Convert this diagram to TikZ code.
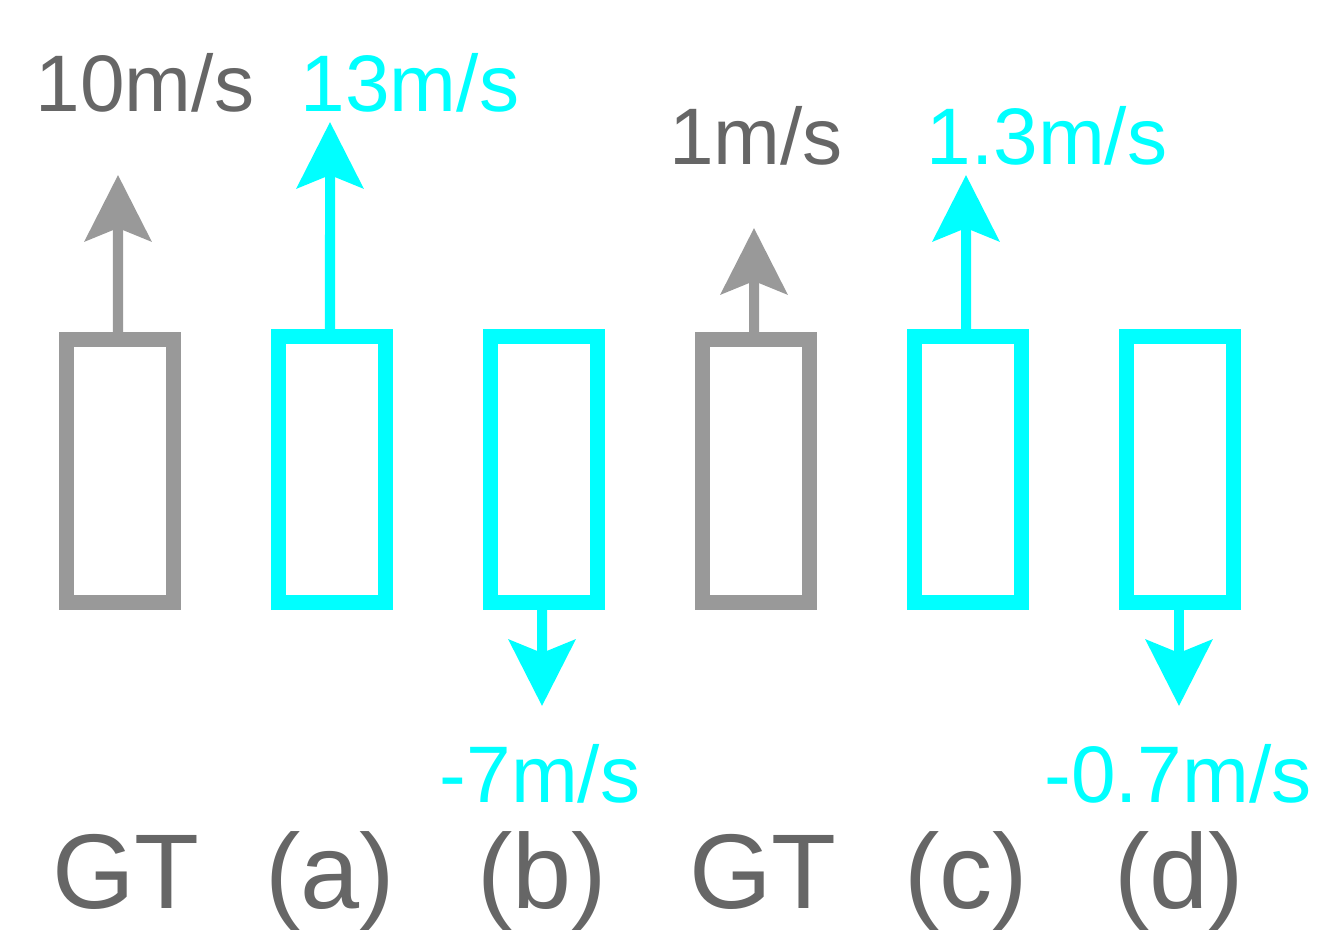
\documentclass[tikz,border=0pt]{standalone}
\usepackage{fontspec}
\setmainfont{Liberation Sans}
\usetikzlibrary{arrows.meta}
\definecolor{boxgray}{HTML}{999999}
\definecolor{txtgray}{HTML}{666666}
\definecolor{cy}{HTML}{00FFFF}
\begin{document}
\begin{tikzpicture}[x=0.01cm,y=-0.01cm,
  gbox/.style={draw=boxgray,line width=0.15cm,minimum width=1.07cm,minimum height=2.63cm,inner sep=0pt},
  cbox/.style={draw=cy,line width=0.15cm,minimum width=1.07cm,minimum height=2.66cm,inner sep=0pt},
  vel/.style={line width=0.1cm,-{Stealth[length=0.66cm,width=0.66cm,inset=0.13cm]}},
  lab/.style={font=\fontsize{22.8pt}{26pt}\selectfont,anchor=base,inner sep=0pt},
  captext/.style={font=\fontsize{30.2pt}{34pt}\selectfont,anchor=base,inner sep=0pt,text=txtgray}]
\useasboundingbox (0,0) rectangle (1330,946);
% boxes
\node[gbox] (b1) at (120,471) {};
\node[cbox] (b2) at (332,469.5) {};
\node[cbox] (b3) at (544,469.5) {};
\node[gbox] (b4) at (756,471) {};
\node[cbox] (b5) at (968,469.5) {};
\node[cbox] (b6) at (1180,469.5) {};
% arrow tips
\coordinate (t1) at (118,175);
\coordinate (t2) at (330,122);
\coordinate (t3) at (542,706);
\coordinate (t4) at (754,228);
\coordinate (t5) at (966,175);
\coordinate (t6) at (1179,706);
\draw[vel,boxgray] ([xshift=-0.02cm]b1.north) -- (t1);
\draw[vel,cy] ([xshift=-0.02cm]b2.north) -- (t2);
\draw[vel,cy] ([xshift=-0.02cm]b3.south) -- (t3);
\draw[vel,boxgray] ([xshift=-0.02cm]b4.north) -- (t4);
\draw[vel,cy] ([xshift=-0.02cm]b5.north) -- (t5);
\draw[vel,cy] ([xshift=-0.01cm]b6.south) -- (t6);
% velocity labels
\node[lab,text=txtgray] (v1) at (145,112) {10m/s};
\node[lab,text=cy] (v2) at (410,112) {13m/s};
\node[lab,text=cy] (v3) at (540,802) {-7m/s};
\node[lab,text=txtgray] (v4) at (756,165) {1m/s};
\node[lab,text=cy] (v5) at (1047,165) {1.3m/s};
\node[lab,text=cy] (v6) at (1178,802) {-0.7m/s};
% captions
\node[captext] (c1) at (126,908) {GT};
\node[captext] (c2) at (330,908) {(a)};
\node[captext] (c3) at (542,908) {(b)};
\node[captext] (c4) at (763,908) {GT};
\node[captext] (c5) at (966,908) {(c)};
\node[captext] (c6) at (1179,908) {(d)};
\end{tikzpicture}
\end{document}
